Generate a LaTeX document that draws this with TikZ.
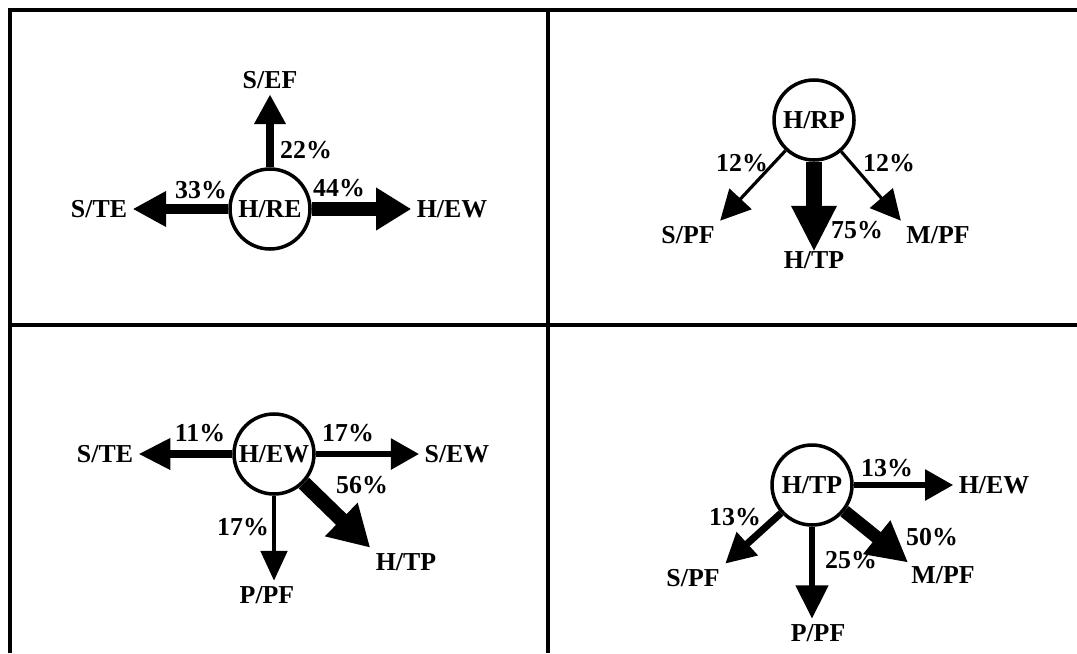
\documentclass[tikz,border=0pt]{standalone}
\usepackage{fontspec}
\setmainfont{Liberation Serif}
\usetikzlibrary{arrows.meta}

\begin{document}
\begin{tikzpicture}[
  x=0.2mm, y=-0.2mm,
  state/.style={circle, draw, line width=2pt, minimum size=16mm,
                inner sep=0pt, text height=9.9pt, text depth=0pt,
                font=\fontsize{14.7}{16}\selectfont\bfseries},
  dest/.style={inner sep=3pt, text height=9.9pt, text depth=0pt,
               font=\fontsize{14.7}{16}\selectfont\bfseries},
  pct/.style={inner sep=0pt, text height=9.9pt, text depth=0pt,
              font=\fontsize{14.7}{16}\selectfont\bfseries},
  flow/.style n args={3}{line width=#1, -{Triangle[length=#2, width=#3]}},
  panelline/.style={line width=2.2pt}
]
\useasboundingbox (0,0) rectangle (1077,653);

% ---------- Cadre et séparations ----------
\draw[panelline] (10,653) -- (10,10) -- (1077,10);
\draw[panelline] (10,325) -- (1077,325);
\draw[panelline] (548,10) -- (548,653);

% ---------- Panneau 1 : H/RE ----------
\node[state] (c1)   at (270,209) {H/RE};
\node[dest]  (sef)  at (270,80)  {S/EF};
\node[dest]  (ste1) at (99,209)  {S/TE};
\node[dest]  (hew1) at (452,209) {H/EW};

\draw[flow={5.1pt}{17pt}{17pt}] (c1) -- (sef);
\draw[flow={5.7pt}{19pt}{19pt}] (c1) -- (ste1);
\draw[flow={8.5pt}{20pt}{23pt}] (c1) -- (hew1);

\node[pct] (p1a) at (306,150) {22\%};
\node[pct] (p1b) at (201,190) {33\%};
\node[pct] (p1c) at (339,188) {44\%};

% ---------- Panneau 2 : H/RP ----------
\node[state] (c2)   at (814,120) {H/RP};
\node[dest]  (spf2) at (688,235) {S/PF};
\node[dest]  (htp2) at (814,260) {H/TP};
\node[dest]  (mpf2) at (938,235) {M/PF};

\draw[flow={1.8pt}{17pt}{17pt}] (c2) -- (spf2.north east);
\draw[flow={9.6pt}{26pt}{24pt}, shorten >=-1.2mm] (c2) -- (htp2);
\draw[flow={1.8pt}{17pt}{17pt}] (c2) -- (mpf2.north west);

\node[pct] (p2a) at (742,163) {12\%};
\node[pct] (p2b) at (889,163) {12\%};
\node[pct] (p2c) at (857,230) {75\%};

% ---------- Panneau 3 : H/EW ----------
\node[state] (c3)   at (274,454) {H/EW};
\node[dest]  (ste3) at (105,454) {S/TE};
\node[dest]  (sew3) at (457,454) {S/EW};
\node[dest]  (htp3) at (406,562) {H/TP};
\node[dest]  (ppf3) at (267,595) {P/PF};

\draw[flow={4pt}{18pt}{17pt}]   (c3) -- (ste3);
\draw[flow={3.4pt}{16pt}{17pt}] (c3) -- (sew3);
\draw[flow={8.5pt}{23pt}{25pt}] (c3) -- (htp3.north west);
\draw[flow={2.3pt}{17pt}{15pt}] (c3) -- (c3 |- ppf3.north);

\node[pct] (p3a) at (200,433) {11\%};
\node[pct] (p3b) at (348,433) {17\%};
\node[pct] (p3c) at (362,485) {56\%};
\node[pct] (p3d) at (243,527) {17\%};

% ---------- Panneau 4 : H/TP ----------
\node[state] (c4)   at (812,485) {H/TP};
\node[dest]  (hew4) at (994,485) {H/EW};
\node[dest]  (spf4) at (693,578) {S/PF};
\node[dest]  (ppf4) at (818,633) {P/PF};
\node[dest]  (mpf4) at (943,575) {M/PF};

\draw[flow={3.4pt}{16pt}{17pt}] (c4) -- (hew4);
\draw[flow={4pt}{17pt}{17pt}]   (c4) -- (spf4.north east);
\draw[flow={3.4pt}{19pt}{18pt}] (c4) -- (c4 |- ppf4.north);
\draw[flow={7.4pt}{23pt}{23pt}, shorten >=-0.6mm] (c4) -- (mpf4.north west);

\node[pct] (p4a) at (887,468) {13\%};
\node[pct] (p4b) at (735,517) {13\%};
\node[pct] (p4c) at (851,560) {25\%};
\node[pct] (p4d) at (932,537) {50\%};

\end{tikzpicture}
\end{document}
